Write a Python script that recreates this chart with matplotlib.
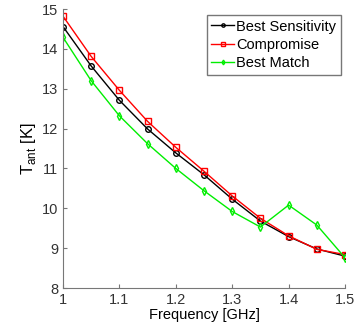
import matplotlib
matplotlib.use("Agg")
import matplotlib.pyplot as plt

freq = [1.0, 1.05, 1.1, 1.15, 1.2, 1.25, 1.3, 1.35, 1.4, 1.45, 1.5]
best_sens = [14.56, 13.57, 12.71, 11.99, 11.39, 10.84, 10.23, 9.68, 9.29, 8.98, 8.80]
compromise = [14.82, 13.81, 12.96, 12.18, 11.53, 10.93, 10.31, 9.75, 9.31, 8.97, 8.84]
best_match = [14.29, 13.20, 12.32, 11.62, 11.00, 10.44, 9.92, 9.53, 10.08, 9.58, 8.76]
xticks = [1, 1.1, 1.2, 1.3, 1.4, 1.5]
xticklabels = ["1", "1.1", "1.2", "1.3", "1.4", "1.5"]
yticks = [8, 9, 10, 11, 12, 13, 14, 15]

plt.rcParams['font.family'] = ['Liberation Sans', 'DejaVu Sans']
plt.rcParams['mathtext.fontset'] = 'custom'
plt.rcParams['mathtext.rm'] = 'Liberation Sans'
fig = plt.figure(figsize=(3.61, 3.25), dpi=100)
ax = fig.add_axes([0.1745, 0.1138, 0.7812, 0.8585])

green = '#00ee00'
ax.plot(freq, best_sens, color='black', marker='o', ms=4, mfc='none', lw=1, label='Best Sensitivity')
ax.plot(freq, compromise, color='red', marker='s', ms=5, mfc='none', lw=1, label='Compromise')
ax.plot(freq, best_match, color=green, marker='d', ms=4, mfc='none', lw=1, label='Best Match')

ax.set_xlim(1, 1.5)
ax.set_ylim(8, 15)
ax.set_xticks(xticks)
ax.set_xticklabels(xticklabels)
ax.set_yticks(yticks)
for s in ['top', 'right']:
    ax.spines[s].set_visible(False)
for s in ['left', 'bottom']:
    ax.spines[s].set_color('#777777')
ax.tick_params(direction='in', colors='#333333', labelsize=10.5, length=3)
ax.tick_params(axis='both', color='#777777')
ax.set_xlabel('Frequency [GHz]', fontsize=10.5, labelpad=1)
ax.set_ylabel(r'T$_{\mathrm{ant}}$ [K]', fontsize=12, labelpad=3)

leg = ax.legend(loc='upper right', fontsize=10.5, frameon=True, fancybox=False,
                handlelength=1.6, handletextpad=0.15, borderpad=0.3, labelspacing=0.3,
                markerscale=0.6, borderaxespad=0, bbox_to_anchor=(0.985, 0.978))
leg.get_frame().set_edgecolor('#555555')
leg.get_frame().set_linewidth(1)

fig.savefig('out.png', dpi=100)
